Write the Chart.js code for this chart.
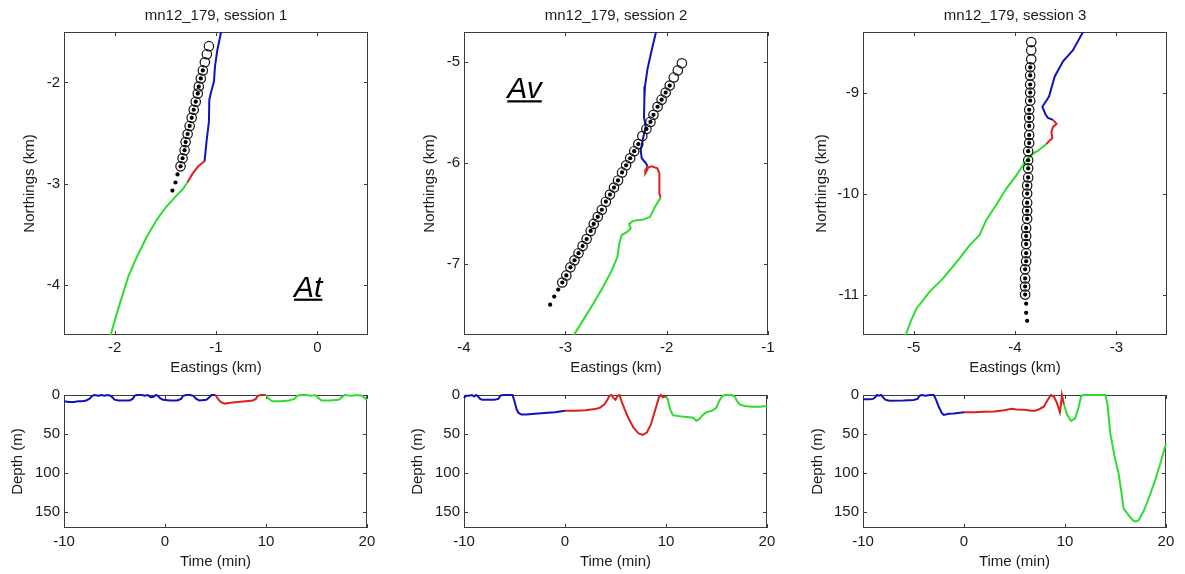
<!DOCTYPE html>
<html>
<head>
<meta charset="utf-8">
<script src="https://cdn.jsdelivr.net/npm/chart.js@4.4.0/dist/chart.umd.min.js"></script>
<style>
  html, body { margin: 0; padding: 0; background: #fff; width: 1185px; height: 574px; overflow: hidden; }
  canvas { position: absolute; display: block; }
</style>
</head>
<body>
<canvas id="t1" width="380" height="380" style="left:0;top:0"></canvas>
<canvas id="t2" width="380" height="380" style="left:400px;top:0"></canvas>
<canvas id="t3" width="380" height="380" style="left:799px;top:0"></canvas>
<canvas id="b1" width="380" height="194" style="left:0;top:380px"></canvas>
<canvas id="b2" width="380" height="194" style="left:400px;top:380px"></canvas>
<canvas id="b3" width="380" height="194" style="left:799px;top:380px"></canvas>
<script>
// ---- tick labels ----
const eastTicks1 = [-2, -1, 0];
const eastTicks2 = [-4, -3, -2, -1];
const eastTicks3 = [-5, -4, -3];
const northTicks1 = [-2, -3, -4];
const northTicks2 = [-5, -6, -7];
const northTicks3 = [-9, -10, -11];
const timeTicks = [-10, 0, 10, 20];
const depthTicks = [0, 50, 100, 150];

// ---- session 1: track positions (km) ----
const s1CircE = [-1.07,-1.09,-1.11,-1.13,-1.15,-1.17,-1.18,-1.20,-1.22,-1.24,-1.26,-1.28,-1.30,-1.31,-1.33,-1.35];
const s1CircN = [-1.64,-1.72,-1.80,-1.88,-1.96,-2.04,-2.11,-2.19,-2.27,-2.35,-2.43,-2.51,-2.59,-2.67,-2.75,-2.83];
const s1DotE = [-1.13,-1.15,-1.17,-1.18,-1.20,-1.22,-1.24,-1.26,-1.28,-1.30,-1.31,-1.33,-1.35,-1.38,-1.40,-1.43];
const s1DotN = [-1.88,-1.96,-2.04,-2.11,-2.19,-2.27,-2.35,-2.43,-2.51,-2.59,-2.67,-2.75,-2.83,-2.91,-2.99,-3.07];
const s1Blue = [[-0.94,-1.45],[-0.95,-1.50],[-0.987,-1.68],[-1.01,-1.84],[-1.02,-1.99],[-1.05,-2.10],[-1.066,-2.17],[-1.07,-2.39],[-1.092,-2.57],[-1.113,-2.78]];
const s1Red = [[-1.113,-2.78],[-1.175,-2.83],[-1.23,-2.90],[-1.283,-2.99]];
const s1Green = [[-1.283,-2.99],[-1.33,-3.06],[-1.39,-3.12],[-1.49,-3.23],[-1.585,-3.36],[-1.684,-3.53],[-1.783,-3.73],[-1.865,-3.92],[-1.94,-4.16],[-1.997,-4.35],[-2.04,-4.50],[-2.05,-4.55]];

// ---- session 2 ----
const s2CircE = [-1.85,-1.89,-1.93,-1.97,-2.01,-2.05,-2.09,-2.13,-2.16,-2.20,-2.24,-2.28,-2.32,-2.36,-2.40,-2.44,-2.48,-2.52,-2.56,-2.60,-2.64,-2.68,-2.72,-2.75,-2.79,-2.83,-2.87,-2.91,-2.95,-2.99,-3.03];
const s2CircN = [-5.01,-5.08,-5.15,-5.23,-5.30,-5.37,-5.44,-5.52,-5.59,-5.66,-5.73,-5.81,-5.88,-5.95,-6.02,-6.09,-6.17,-6.24,-6.31,-6.38,-6.46,-6.53,-6.60,-6.67,-6.75,-6.82,-6.89,-6.96,-7.03,-7.11,-7.18];
const s2DotE = [-1.97,-2.01,-2.05,-2.09,-2.13,-2.16,-2.20,-2.28,-2.32,-2.36,-2.40,-2.44,-2.48,-2.52,-2.56,-2.60,-2.64,-2.68,-2.72,-2.75,-2.79,-2.83,-2.87,-2.91,-2.95,-2.99,-3.03,-3.07,-3.11,-3.15];
const s2DotN = [-5.23,-5.30,-5.37,-5.44,-5.52,-5.59,-5.66,-5.81,-5.88,-5.95,-6.02,-6.09,-6.17,-6.24,-6.31,-6.38,-6.46,-6.53,-6.60,-6.67,-6.75,-6.82,-6.89,-6.96,-7.03,-7.11,-7.18,-7.25,-7.32,-7.40];
const s2Blue = [[-2.10,-4.65],[-2.105,-4.70],[-2.148,-4.88],[-2.19,-5.07],[-2.214,-5.24],[-2.22,-5.37],[-2.224,-5.54],[-2.207,-5.64],[-2.237,-5.77],[-2.256,-5.87],[-2.246,-5.95],[-2.204,-6.00],[-2.19,-6.03]];
const s2Red = [[-2.19,-6.03],[-2.205,-6.06],[-2.211,-6.10],[-2.20,-6.08],[-2.18,-6.04],[-2.148,-6.03],[-2.092,-6.05],[-2.072,-6.10],[-2.072,-6.20],[-2.072,-6.30],[-2.059,-6.34]];
const s2Green = [[-2.059,-6.34],[-2.115,-6.43],[-2.164,-6.53],[-2.23,-6.557],[-2.33,-6.57],[-2.37,-6.60],[-2.355,-6.645],[-2.39,-6.68],[-2.444,-6.71],[-2.467,-6.79],[-2.487,-6.93],[-2.542,-7.06],[-2.625,-7.22],[-2.724,-7.39],[-2.823,-7.55],[-2.915,-7.70],[-2.93,-7.75]];

// ---- session 3 ----
const s3CircE = [-3.84,-3.84,-3.84,-3.85,-3.85,-3.85,-3.85,-3.85,-3.86,-3.86,-3.86,-3.86,-3.86,-3.87,-3.87,-3.87,-3.87,-3.88,-3.88,-3.88,-3.88,-3.88,-3.89,-3.89,-3.89,-3.89,-3.89,-3.90,-3.90,-3.90,-3.90];
const s3CircN = [-8.50,-8.58,-8.67,-8.75,-8.83,-8.92,-9.00,-9.08,-9.17,-9.25,-9.33,-9.42,-9.50,-9.58,-9.67,-9.75,-9.84,-9.92,-10.00,-10.09,-10.17,-10.25,-10.34,-10.42,-10.50,-10.59,-10.67,-10.75,-10.84,-10.92,-11.00];
const s3DotE = [-3.85,-3.85,-3.85,-3.85,-3.85,-3.86,-3.86,-3.86,-3.86,-3.86,-3.87,-3.87,-3.87,-3.87,-3.88,-3.88,-3.88,-3.88,-3.88,-3.89,-3.89,-3.89,-3.89,-3.89,-3.90,-3.90,-3.90,-3.90,-3.89,-3.89,-3.88];
const s3DotN = [-8.75,-8.83,-8.92,-9.00,-9.08,-9.17,-9.25,-9.33,-9.42,-9.50,-9.58,-9.67,-9.75,-9.84,-9.92,-10.00,-10.09,-10.17,-10.25,-10.34,-10.42,-10.50,-10.59,-10.67,-10.75,-10.84,-10.92,-11.00,-11.09,-11.18,-11.26];
const s3Blue = [[-3.30,-8.35],[-3.329,-8.40],[-3.428,-8.58],[-3.526,-8.69],[-3.608,-8.84],[-3.664,-9.04],[-3.73,-9.14],[-3.697,-9.22],[-3.674,-9.25],[-3.625,-9.27]];
const s3Red = [[-3.625,-9.27],[-3.59,-9.31],[-3.625,-9.34],[-3.641,-9.39],[-3.631,-9.45],[-3.674,-9.49],[-3.69,-9.51]];
const s3Green = [[-3.69,-9.51],[-3.773,-9.575],[-3.806,-9.594],[-3.872,-9.65],[-3.921,-9.72],[-3.987,-9.82],[-4.085,-9.95],[-4.184,-10.11],[-4.283,-10.26],[-4.349,-10.41],[-4.447,-10.51],[-4.562,-10.66],[-4.71,-10.84],[-4.842,-10.97],[-4.973,-11.14],[-5.023,-11.25],[-5.079,-11.40],[-5.09,-11.45]];

// ---- dive profiles: [time (min), depth (m)] ----
const d1Blue = [[-10,8],[-9.5,9],[-9,9],[-8.6,8],[-8.2,8],[-7.8,7],[-7.5,5],[-7.2,1],[-7,0],[-6.6,1],[-6.3,0],[-6,1],[-5.7,0],[-5.4,1],[-5.2,3],[-5,6],[-4.6,7],[-4,7],[-3.5,7],[-3.2,5],[-3,1],[-2.8,0],[-2.3,0],[-2,1],[-1.7,0],[-1.4,3],[-1.1,2],[-0.9,0],[-0.7,1],[-0.5,4],[-0.2,6],[0.5,7],[1.2,7],[1.6,5],[1.8,1],[2.1,0],[2.5,0],[2.8,1],[3.1,5],[3.4,7],[4.1,6],[4.4,3],[4.6,0],[5,0]];
const d1Red = [[5,0],[5.2,4],[5.5,9],[5.9,11],[6.5,10],[7.2,9],[8,8],[8.7,7],[9,5],[9.2,1],[9.5,0],[10,0]];
const d1Green = [[10,0],[10.2,4],[10.6,8],[11.5,8],[12.3,7],[12.8,5],[13.1,1],[13.4,0],[14,0],[14.5,1],[14.9,0],[15.2,4],[15.5,7],[16.3,7],[17.2,6],[17.5,3],[17.8,0],[18.5,1],[19,0],[19.5,1],[19.8,4],[20,6]];

const d2Blue = [[-10,4],[-9.8,1],[-9.5,1],[-9.2,0],[-9,2],[-8.8,0],[-8.6,2],[-8.4,5],[-8.2,6],[-7.5,6],[-7,6],[-6.6,5],[-6.4,1],[-6.2,0],[-5.6,0],[-5.2,0],[-5.0,8],[-4.8,18],[-4.6,23],[-4.3,25],[-3.8,25],[-3,24],[-2,23],[-1,22],[0,20]];
const d2Red = [[0,20],[1,20],[2,19.5],[3,18],[3.5,16],[3.9,12],[4.2,6],[4.4,1],[4.6,0],[4.8,4],[5,6],[5.2,1],[5.4,0],[5.6,8],[5.9,18],[6.3,30],[6.8,42],[7.3,49],[7.7,51],[8.1,48],[8.5,38],[8.8,25],[9.1,12],[9.3,3],[9.5,0],[9.7,3],[9.9,2],[10,2]];
const d2Green = [[10,2],[10.2,6],[10.4,18],[10.7,26],[11.3,27],[12,28],[12.7,29],[13,33],[13.3,31],[13.6,26],[14,22],[14.6,20],[15,16],[15.3,7],[15.6,1],[15.9,0],[16.5,0],[16.8,2],[17,7],[17.3,12],[17.8,14],[18.5,15],[19.3,15],[20,14]];

const d3Blue = [[-10,5.5],[-9.3,5.5],[-9,5],[-8.8,3],[-8.6,0],[-8.4,1],[-8.2,0],[-8,3],[-7.8,6],[-7.4,7.3],[-6,7],[-5,6.5],[-4.6,5],[-4.4,1],[-4.2,0],[-3.8,1],[-3.4,0],[-3,0],[-2.8,5],[-2.5,15],[-2.2,23],[-2,25.5],[-1.5,24],[-1,23.5],[0,22]];
const d3Red = [[0,22],[1,22],[2,21.5],[3,21],[4,19.5],[4.7,17.5],[5.2,18.5],[6,19],[6.7,20],[7,20],[7.4,18.5],[7.9,15],[8.3,6],[8.6,0],[8.9,2],[9.2,10],[9.5,22],[9.6,12],[9.7,0],[9.9,12]];
const d3Green = [[9.9,12],[10.2,25],[10.6,33],[11,30],[11.3,18],[11.6,2],[11.8,0],[13,0],[14,0],[14.2,12],[14.5,50],[14.9,78],[15.3,100],[15.6,125],[15.8,145],[16.2,152],[16.7,160],[17,162],[17.3,160],[17.8,148],[18.3,132],[18.9,110],[19.5,85],[20,62]];

// ---- styling ----
const FONT = "'Liberation Sans', Arial, Helvetica, sans-serif";
const TXT = '#1a1a1a';
const BLUE = '#1212bc', RED = '#dc1f1f', GREEN = '#2fdc2f';
Chart.defaults.color = TXT;
Chart.defaults.font.family = FONT;
Chart.defaults.font.size = 15;

const zip = (xs, ys) => xs.map((x, i) => ({ x: x, y: ys[i] }));
const pairs = arr => arr.map(p => ({ x: p[0], y: p[1] }));
const setTicks = list => scale => { scale.ticks = list.map(v => ({ value: v })); };

// MATLAB-style box with inward tick marks on all four sides
const boxTicks = {
  id: 'boxTicks',
  beforeDatasetsDraw(chart) {
    const { ctx, chartArea: a, scales } = chart;
    const L = 4;
    ctx.save();
    ctx.strokeStyle = '#3c3c3c';
    ctx.lineWidth = 1;
    ctx.beginPath();
    scales.x.ticks.forEach(t => {
      const p = Math.round(scales.x.getPixelForValue(t.value)) + 0.5;
      ctx.moveTo(p, a.top); ctx.lineTo(p, a.top + L);
      ctx.moveTo(p, a.bottom); ctx.lineTo(p, a.bottom - L);
    });
    scales.y.ticks.forEach(t => {
      const p = Math.round(scales.y.getPixelForValue(t.value)) + 0.5;
      ctx.moveTo(a.left, p); ctx.lineTo(a.left + L, p);
      ctx.moveTo(a.right, p); ctx.lineTo(a.right - L, p);
    });
    ctx.stroke();
    ctx.strokeRect(Math.round(a.left) + 0.5, Math.round(a.top) + 0.5,
                   Math.round(a.right - a.left) - 1, Math.round(a.bottom - a.top) - 1);
    ctx.restore();
  }
};

// underlined italic panel tag placed in data coordinates
const panelTag = {
  id: 'panelTag',
  afterDatasetsDraw(chart, args, opts) {
    if (!opts || !opts.text) return;
    const { ctx, scales } = chart;
    const px = scales.x.getPixelForValue(opts.x);
    const py = scales.y.getPixelForValue(opts.y);
    ctx.save();
    ctx.font = 'italic 30px ' + FONT;
    ctx.fillStyle = '#000';
    ctx.textBaseline = 'alphabetic';
    ctx.textAlign = 'left';
    ctx.fillText(opts.text, px, py);
    const w = ctx.measureText(opts.text).width;
    ctx.fillRect(px, py + 2, w, 2.2);
    ctx.restore();
  }
};
Chart.register(boxTicks, panelTag);

function lineSet(arr, color) {
  return { data: pairs(arr), showLine: true, borderColor: color, borderWidth: 2,
           pointRadius: 0, tension: 0, clip: 0 };
}

function trackChart(id, t) {
  new Chart(document.getElementById(id), {
    type: 'scatter',
    data: { datasets: [
      { data: zip(t.dotE, t.dotN), pointRadius: 2.1, pointBackgroundColor: '#000',
        pointBorderWidth: 0, showLine: false, clip: false },
      { data: zip(t.circE, t.circN), pointRadius: 4.7, pointBackgroundColor: 'rgba(0,0,0,0)',
        pointBorderColor: '#111', pointBorderWidth: 1.2, showLine: false, clip: false },
      lineSet(t.green, GREEN), lineSet(t.red, RED), lineSet(t.blue, BLUE)
    ]},
    options: {
      responsive: false, animation: false, events: [],
      layout: { padding: { left: 0, right: 12, top: 0, bottom: 0 } },
      plugins: {
        legend: { display: false }, tooltip: { enabled: false },
        title: { display: true, text: t.title, fullSize: false, color: TXT,
                 font: { size: 15, weight: 'normal' }, padding: { top: 7, bottom: 7 } },
        panelTag: t.tag || {}
      },
      scales: {
        x: {
          type: 'linear', min: t.xMin, max: t.xMax,
          afterBuildTicks: setTicks(t.xTicks),
          afterFit: s => { s.height = 45; },
          grid: { display: false, drawTicks: false }, border: { display: false },
          ticks: { padding: 4, callback: v => String(v) },
          title: { display: true, text: 'Eastings (km)', padding: { top: 0, bottom: 2.7 } }
        },
        y: {
          type: 'linear', min: t.yMin, max: t.yMax,
          afterBuildTicks: setTicks(t.yTicks),
          afterFit: s => { s.width = 64; },
          grid: { display: false, drawTicks: false }, border: { display: false },
          ticks: { padding: 4, callback: v => String(v) },
          title: { display: true, text: 'Northings (km)', padding: { top: t.yTitlePad, bottom: 0 } }
        }
      }
    }
  });
}

function depthChart(id, d, yTitlePad) {
  new Chart(document.getElementById(id), {
    type: 'scatter',
    data: { datasets: [
      { data: pairs(d.green), showLine: true, borderColor: GREEN, borderWidth: 2, pointRadius: 0, clip: false },
      { data: pairs(d.red), showLine: true, borderColor: RED, borderWidth: 2, pointRadius: 0, clip: false },
      { data: pairs(d.blue), showLine: true, borderColor: BLUE, borderWidth: 2, pointRadius: 0, clip: false }
    ]},
    options: {
      responsive: false, animation: false, events: [],
      layout: { padding: { left: 0, right: 12, top: 15, bottom: 0 } },
      plugins: { legend: { display: false }, tooltip: { enabled: false } },
      scales: {
        x: {
          type: 'linear', min: -10, max: 20,
          afterBuildTicks: setTicks(timeTicks),
          afterFit: s => { s.height = 46; },
          grid: { display: false, drawTicks: false }, border: { display: false },
          ticks: { padding: 4.7, callback: v => String(v) },
          title: { display: true, text: 'Time (min)', padding: { top: 0, bottom: 3.3 } }
        },
        y: {
          type: 'linear', min: 0, max: 170, reverse: true,
          afterBuildTicks: setTicks(depthTicks),
          afterFit: s => { s.width = 64; },
          grid: { display: false, drawTicks: false }, border: { display: false },
          ticks: { padding: 4, callback: v => String(v) },
          title: { display: true, text: 'Depth (m)', padding: { top: yTitlePad, bottom: 0 } }
        }
      }
    }
  });
}

trackChart('t1', { title: 'mn12_179, session 1', xMin: -2.5, xMax: 0.5, yMin: -4.5, yMax: -1.5,
  xTicks: eastTicks1, yTicks: northTicks1, yTitlePad: 21,
  circE: s1CircE, circN: s1CircN, dotE: s1DotE, dotN: s1DotN,
  blue: s1Blue, red: s1Red, green: s1Green,
  tag: { text: 'At', x: -0.23, y: -4.12 } });

trackChart('t2', { title: 'mn12_179, session 2', xMin: -4, xMax: -1, yMin: -7.7, yMax: -4.7,
  xTicks: eastTicks2, yTicks: northTicks2, yTitlePad: 21,
  circE: s2CircE, circN: s2CircN, dotE: s2DotE, dotN: s2DotN,
  blue: s2Blue, red: s2Red, green: s2Green,
  tag: { text: 'Av', x: -3.573, y: -5.356 } });

trackChart('t3', { title: 'mn12_179, session 3', xMin: -5.5, xMax: -2.5, yMin: -11.4, yMax: -8.4,
  xTicks: eastTicks3, yTicks: northTicks3, yTitlePad: 13.7,
  circE: s3CircE, circN: s3CircN, dotE: s3DotE, dotN: s3DotN,
  blue: s3Blue, red: s3Red, green: s3Green });

depthChart('b1', { blue: d1Blue, red: d1Red, green: d1Green }, 9.3);
depthChart('b2', { blue: d2Blue, red: d2Red, green: d2Green }, 9.3);
depthChart('b3', { blue: d3Blue, red: d3Red, green: d3Green }, 10);
</script>
</body>
</html>
